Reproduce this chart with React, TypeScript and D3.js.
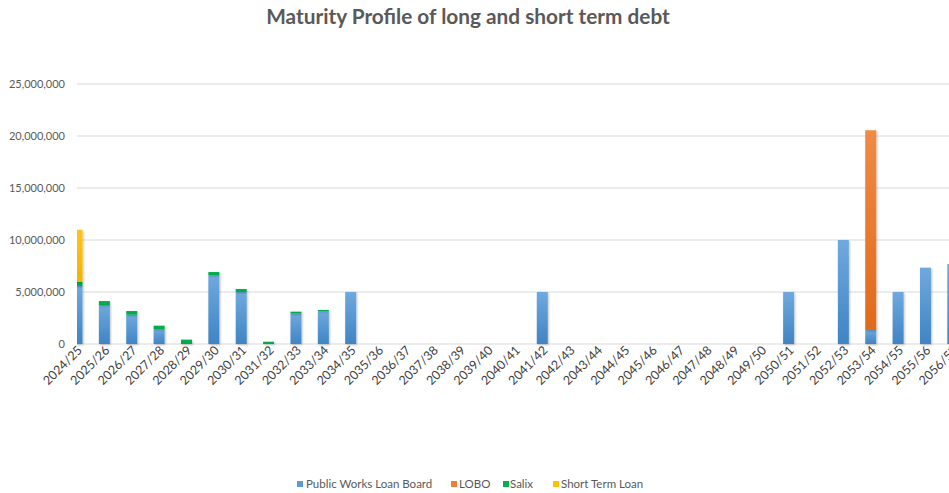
import React from "react";
import * as d3 from "d3";

const categories = [
  "2024/25","2025/26","2026/27","2027/28","2028/29","2029/30","2030/31","2031/32","2032/33","2033/34",
  "2034/35","2035/36","2036/37","2037/38","2038/39","2039/40","2040/41","2041/42","2042/43","2043/44",
  "2044/45","2045/46","2046/47","2047/48","2048/49","2049/50","2050/51","2051/52","2052/53","2053/54",
  "2054/55","2055/56","2056/57",
];
const pwlb = [5580000,3750000,2820000,1440000,0,6630000,5000000,0,2920000,3170000,
  5000000,0,0,0,0,0,0,5000000,0,0,
  0,0,0,0,0,0,5000000,0,10000000,1350000,
  5000000,7340000,7690000];
const lobo = [0,0,0,0,0,0,0,0,0,0, 0,0,0,0,0,0,0,0,0,0, 0,0,0,0,0,0,0,0,0,19200000, 0,0,0];
const salix = [400000,380000,350000,320000,420000,290000,290000,220000,190000,100000,
  0,0,0,0,0,0,0,0,0,0, 0,0,0,0,0,0,0,0,0,0, 0,0,0];
const shortTerm = [5000000,0,0,0,0,0,0,0,0,0, 0,0,0,0,0,0,0,0,0,0, 0,0,0,0,0,0,0,0,0,0, 0,0,0];
const yTicks = [0, 5000000, 10000000, 15000000, 20000000, 25000000];

const seriesNames = ["Public Works Loan Board", "LOBO", "Salix", "Short Term Loan"];
const seriesColors = ["#5B9BD5", "#ED7D31", "#00B050", "#FFC000"];
const seriesTop = ["#6FA9DE", "#F08A45", "#00B050", "#FFC416"];
const seriesBottom = ["#3F84C5", "#E06A1C", "#00A84B", "#F2B400"];

const W = 949, H = 493;
const plotLeft = 77;
const step = 27.37;
const barW = 11;
const font = "Lato, 'Open Sans', sans-serif";

export default function App() {
  const x = d3.scalePoint<string>().domain(categories).range([plotLeft, plotLeft + step * (categories.length - 1)]);
  const y = d3.scaleLinear().domain([0, 25000000]).range([344, 84]);
  const table = categories.map((c, i) => ({ cat: c, s0: pwlb[i], s1: lobo[i], s2: salix[i], s3: shortTerm[i] }));
  const stack = d3.stack<any>().keys(["s0", "s1", "s2", "s3"])(table);
  const fmt = d3.format(",");
  const legendSq = [297, 451, 503, 553];
  const legendTx = [306, 459, 510, 561];
  return (
    <svg width={W} height={H} style={{ position: "absolute", left: 0, top: 0, background: "#fff" }} fontFamily={font}>
      <defs>
        {seriesColors.map((c, k) => (
          <linearGradient key={k} id={`g${k}`} x1="0" y1="0" x2="0" y2="1">
            <stop offset="0%" stopColor={seriesTop[k]} />
            <stop offset="100%" stopColor={seriesBottom[k]} />
          </linearGradient>
        ))}
        <clipPath id="plot">
          <rect x={plotLeft} y={0} width={W - plotLeft} height={H} />
        </clipPath>
        <filter id="sh" x="-30%" y="-5%" width="160%" height="110%">
          <feGaussianBlur in="SourceAlpha" stdDeviation="1" />
          <feOffset dx="0.5" dy="0.5" result="b" />
          <feComponentTransfer><feFuncA type="linear" slope="0.25" /></feComponentTransfer>
          <feMerge><feMergeNode /><feMergeNode in="SourceGraphic" /></feMerge>
        </filter>
      </defs>
      <text x={468} y={24} textAnchor="middle" fontSize={20.8} fontWeight="bold" fill="#595959">
        Maturity Profile of long and short term debt
      </text>
      {yTicks.map((t) => (
        <g key={t}>
          <line x1={plotLeft} x2={W} y1={y(t)} y2={y(t)} stroke="#D9D9D9" strokeWidth={1} />
          <text x={65} y={y(t) + 4} textAnchor="end" fontSize={11} fill="#595959">{fmt(t)}</text>
        </g>
      ))}
      <g clipPath="url(#plot)">
        {stack.map((layer, k) => (
          <g key={k} fill={`url(#g${k})`} filter="url(#sh)">
            {layer.map((d, i) =>
              d[1] - d[0] > 0 ? (
                <rect key={i} x={(x(categories[i]) as number) - barW / 2} width={barW} y={y(d[1])} height={y(d[0]) - y(d[1])} />
              ) : null
            )}
          </g>
        ))}
      </g>
      {categories.map((c) => (
        <text key={c} transform={`translate(${(x(c) as number) + 6},${351}) rotate(-45)`} textAnchor="end" fontSize={12.5} fill="#404040">
          {c}
        </text>
      ))}
      {seriesNames.map((n, k) => (
        <g key={n}>
          <rect x={legendSq[k]} y={481} width={6} height={6} fill={seriesColors[k]} />
          <text x={legendTx[k]} y={488} fontSize={11.5} fill="#595959">{n}</text>
        </g>
      ))}
    </svg>
  );
}
